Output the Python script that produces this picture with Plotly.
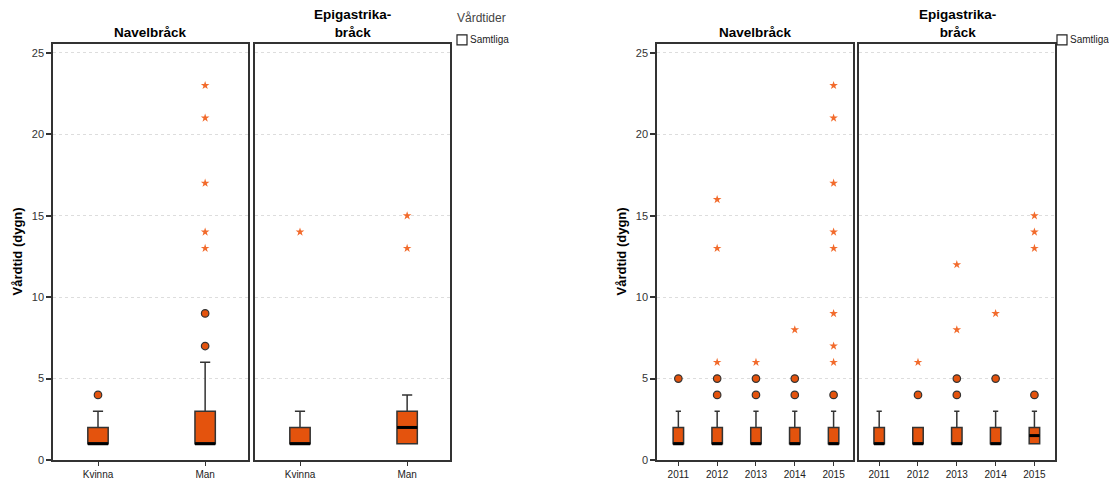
import plotly.graph_objects as go

# ---------------- data ----------------
sex_categories = ["Kvinna", "Man"]
year_categories = ["2011", "2012", "2013", "2014", "2015"]
y_ticks = [0, 5, 10, 15, 20, 25]

# Navelbråck by sex
nav_sex_q1 = [1, 1]
nav_sex_median = [1, 1]
nav_sex_q3 = [2, 3]
nav_sex_low = [1, 1]
nav_sex_high = [3, 6]
nav_sex_outliers = [[4], [7, 9]]
nav_sex_extremes = [[], [13, 14, 17, 21, 23]]

# Epigastrikabråck by sex
epi_sex_q1 = [1, 1]
epi_sex_median = [1, 2]
epi_sex_q3 = [2, 3]
epi_sex_low = [1, 1]
epi_sex_high = [3, 4]
epi_sex_outliers = [[], []]
epi_sex_extremes = [[14], [13, 15]]

# Navelbråck by year
nav_year_q1 = [1, 1, 1, 1, 1]
nav_year_median = [1, 1, 1, 1, 1]
nav_year_q3 = [2, 2, 2, 2, 2]
nav_year_low = [1, 1, 1, 1, 1]
nav_year_high = [3, 3, 3, 3, 3]
nav_year_outliers = [[5], [4, 5], [4, 5], [4, 5], [4]]
nav_year_extremes = [[], [6, 13, 16], [6], [8], [6, 7, 9, 13, 14, 17, 21, 23]]

# Epigastrikabråck by year
epi_year_q1 = [1, 1, 1, 1, 1]
epi_year_median = [1, 1, 1, 1, 1.5]
epi_year_q3 = [2, 2, 2, 2, 2]
epi_year_low = [1, 1, 1, 1, 1]
epi_year_high = [3, 2, 3, 3, 3]
epi_year_outliers = [[], [4], [4, 5], [5], [4]]
epi_year_extremes = [[], [6], [8, 12], [9], [13, 14, 15]]

# ---------------- style ----------------
W, H = 1109, 480
H_EFF = 475  # measured vertical extent of the rendered plot
BOX_FILL = "#E4530D"
STAR_COL = "#F26B2C"
EDGE = "#333333"
FONT = "Liberation Sans, Arial, sans-serif"

def px_x(p):
    return p / W

def px_y(p):
    return 1 - p / H_EFF

ydom = [px_y(461), px_y(44)]
panels = [
    ("x", (53, 248), sex_categories, nav_sex_q1, nav_sex_median, nav_sex_q3, nav_sex_low, nav_sex_high,
     nav_sex_outliers, nav_sex_extremes, 0.19, [-0.42, 1.40]),
    ("x2", (255, 450), sex_categories, epi_sex_q1, epi_sex_median, epi_sex_q3, epi_sex_low, epi_sex_high,
     epi_sex_outliers, epi_sex_extremes, 0.19, [-0.42, 1.40]),
    ("x3", (657, 853), year_categories, nav_year_q1, nav_year_median, nav_year_q3, nav_year_low, nav_year_high,
     nav_year_outliers, nav_year_extremes, 0.27, [-0.55, 4.50]),
    ("x4", (859, 1055), year_categories, epi_year_q1, epi_year_median, epi_year_q3, epi_year_low, epi_year_high,
     epi_year_outliers, epi_year_extremes, 0.27, [-0.52, 4.53]),
]

fig = go.Figure()
layout_axes = {}

for i, (xid, (x0, x1), cats, q1, med, q3, lo, hi, outl, extr, bw, xr) in enumerate(panels):
    yid = "y" if i == 0 else f"y{i+1}"
    pos = list(range(len(cats)))
    fig.add_trace(go.Box(
        x=pos, q1=q1, median=med, q3=q3, lowerfence=lo, upperfence=hi,
        xaxis=xid, yaxis=yid, width=bw, whiskerwidth=0.5,
        fillcolor=BOX_FILL, line=dict(color=EDGE, width=1.5),
        boxpoints=False, showlegend=False, hoverinfo="skip",
    ))
    mx, my = [], []
    for p, m in zip(pos, med):
        mx += [p - bw / 2, p + bw / 2, None]
        my += [m, m, None]
    fig.add_trace(go.Scatter(
        x=mx, y=my, mode="lines", xaxis=xid, yaxis=yid,
        line=dict(color="black", width=3), showlegend=False, hoverinfo="skip",
    ))
    ox, oy = [], []
    for p, vals in zip(pos, outl):
        for v in vals:
            ox.append(p)
            oy.append(v)
    fig.add_trace(go.Scatter(
        x=ox, y=oy, mode="markers", xaxis=xid, yaxis=yid,
        marker=dict(symbol="circle", size=7.5, color=BOX_FILL, line=dict(color=EDGE, width=1.2)),
        showlegend=False, hoverinfo="skip",
    ))
    ex, ey = [], []
    for p, vals in zip(pos, extr):
        for v in vals:
            ex.append(p)
            ey.append(v)
    fig.add_trace(go.Scatter(
        x=ex, y=ey, mode="markers", xaxis=xid, yaxis=yid,
        marker=dict(symbol="star", size=6.5, color=STAR_COL, line=dict(width=0)),
        showlegend=False, hoverinfo="skip",
    ))

    xkey = "xaxis" if i == 0 else f"xaxis{i+1}"
    ykey = "yaxis" if i == 0 else f"yaxis{i+1}"
    layout_axes[xkey] = dict(
        domain=[px_x(x0), px_x(x1)], anchor=yid, range=xr,
        tickmode="array", tickvals=pos, ticktext=cats,
        ticks="outside", ticklen=4, tickcolor=EDGE, tickwidth=1,
        tickfont=dict(size=10, color="#222", family=FONT),
        showline=True, mirror=True, linecolor=EDGE, linewidth=1.5,
        showgrid=False, zeroline=False, fixedrange=True,
    )
    show_y = i in (0, 2)
    layout_axes[ykey] = dict(
        domain=ydom, anchor=xid, range=[0, 25.55],
        tickmode="array", tickvals=y_ticks,
        showticklabels=show_y, ticks="outside" if show_y else "",
        ticklen=5, tickcolor=EDGE, tickwidth=1.5,
        tickfont=dict(size=11, color="#333", family=FONT),
        showline=True, mirror=True, linecolor=EDGE, linewidth=1.5,
        showgrid=True, gridcolor="#DDDDDD", griddash="3px,3px", gridwidth=1,
        zeroline=False, fixedrange=True,
    )

annotations = []
title_font = dict(size=13.5, color="black", family=FONT)
for (x0, x1), text in [((53, 248), "<b>Navelbråck</b>"), ((255, 450), "<b>Epigastrika-<br>bråck</b>"),
                       ((657, 853), "<b>Navelbråck</b>"), ((859, 1055), "<b>Epigastrika-<br>bråck</b>")]:
    annotations.append(dict(
        x=px_x((x0 + x1) / 2), y=px_y(42), xref="paper", yref="paper",
        text=text, showarrow=False, xanchor="center", yanchor="bottom",
        font=title_font, align="center",
    ))

for xp in (17, 621):
    annotations.append(dict(
        x=px_x(xp), y=px_y(252), xref="paper", yref="paper",
        text="<b>Vårdtid (dygn)</b>", textangle=-90, showarrow=False,
        xanchor="center", yanchor="middle",
        font=dict(size=13, color="black", family=FONT),
    ))

annotations.append(dict(
    x=px_x(455), y=px_y(18), xref="paper", yref="paper", text="Vårdtider",
    showarrow=False, xanchor="left", yanchor="middle",
    font=dict(size=12, color="#444", family=FONT),
))
shapes = []
for lx in (457, 1057):
    shapes.append(dict(type="rect", xref="paper", yref="paper",
                       x0=px_x(lx), x1=px_x(lx + 10), y0=px_y(45), y1=px_y(35),
                       line=dict(color="#222", width=1.2), fillcolor="white"))
    annotations.append(dict(
        x=px_x(lx + 11), y=px_y(40), xref="paper", yref="paper", text="Samtliga",
        showarrow=False, xanchor="left", yanchor="middle",
        font=dict(size=10, color="#222", family=FONT),
    ))

fig.update_layout(
    width=W, height=H, margin=dict(l=0, r=0, t=0, b=0),
    paper_bgcolor="white", plot_bgcolor="white",
    annotations=annotations, shapes=shapes, showlegend=False,
    boxmode="overlay",
    **layout_axes,
)

fig.write_html(
    "out.html",
    config={"displayModeBar": False},
    post_script="document.body.style.margin='0';document.body.style.overflow='hidden';",
)
